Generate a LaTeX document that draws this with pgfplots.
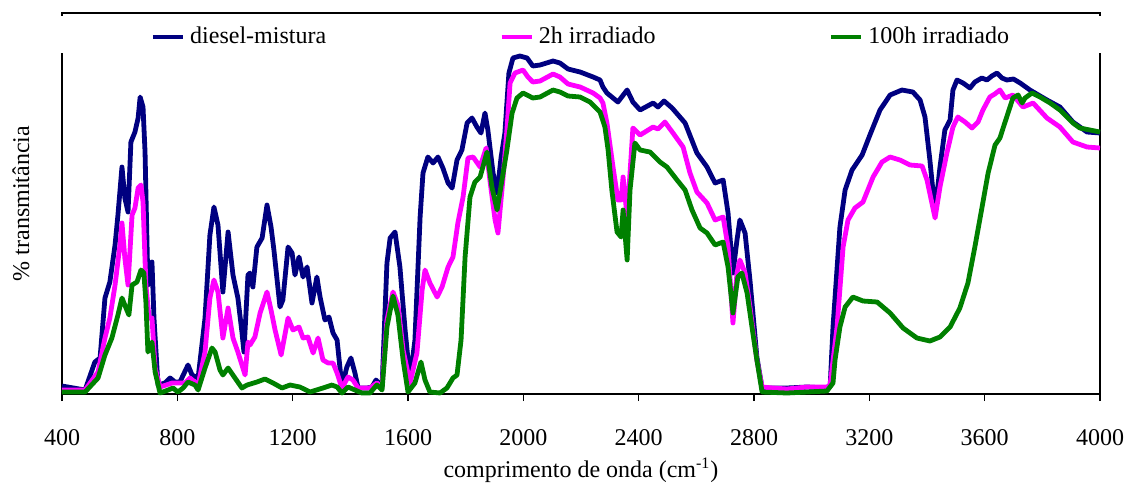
\documentclass[border=0pt]{standalone}
\usepackage{fontspec}
\setmainfont{Liberation Serif}
\usepackage{pgfplots}
\pgfplotsset{compat=1.18}
\definecolor{cdiesel}{RGB}{0,0,128}
\definecolor{cdois}{RGB}{255,0,255}
\definecolor{ccem}{RGB}{0,128,0}

\begin{document}
\fontsize{12}{14}\selectfont
\begin{tikzpicture}
\useasboundingbox (-31pt,-45pt) rectangle (532pt,197pt);
\begin{axis}[
    at={(0,0)}, anchor=south west,
    scale only axis, width=519pt, height=190.5pt,
    xmin=400, xmax=4000, ymin=0, ymax=381,
    xtick={400,800,...,4000}, ytick=\empty,
    xtick pos=bottom,
    tick align=outside, major tick length=3.5pt,
    xtick style={black, line width=0.6pt},
    axis line style={line width=0.6pt},
    x tick label style={anchor=base, yshift=-22pt, font=\fontsize{12}{14}\selectfont},
    /pgf/number format/assume math mode=true,
    /pgf/number format/set thousands separator={},
    xlabel={comprimento de onda (cm\textsuperscript{-1})},
    xlabel style={at={(axis description cs:0.5,-0.218)}, anchor=base},
    ylabel={\% transmitância},
    ylabel style={at={(axis description cs:-0.0395,0.5)}, anchor=center},
    clip=false,
    legend columns=3,
    legend style={draw=none, fill=none, inner sep=0pt,
        at={(rel axis cs:0.0848,0.937)}, anchor=west,
        nodes={inner xsep=2.5pt, inner ysep=0pt},
        /tikz/every even column/.append style={column sep=84pt}},
    legend image code/.code={\draw[#1] (0pt,0pt) -- (15pt,0pt);},
    every axis plot/.append style={line width=2.4pt, line join=round},
]
% faixa branca da legenda sobre a moldura
\fill[white] (rel axis cs:-0.006,0.895) rectangle (rel axis cs:1.006,0.992);

\addplot[cdiesel] coordinates {
(400,8)(480,4)(514,32)(532,36)(549,96)(566,112)(584,149)(594,179)(608,227)
(618,196)(629,182)(639,252)(653,262)(664,276)(671,297)(681,287)(688,242)
(698,109)(712,132)(719,76)(733,9)(757,11)(775,16)(792,12)(809,12)(837,29)
(851,19)(872,16)(896,76)(913,159)(927,187)(941,169)(958,102)(976,162)
(993,119)(1010,96)(1024,62)(1031,42)(1045,119)(1052,121)(1062,107)(1076,147)
(1094,156)(1111,189)(1125,167)(1135,144)(1156,87)(1166,94)(1184,147)
(1198,141)(1208,119)(1222,137)(1236,117)(1250,127)(1267,91)(1284,117)
(1295,97)(1312,74)(1326,77)(1340,61)(1354,54)(1371,7)(1388,27)(1402,36)
(1416,21)(1427,6)(1458,6)(1475,7)(1489,14)(1510,7)(1527,131)(1538,156)
(1555,162)(1572,127)(1590,64)(1607,14)(1624,54)(1642,177)(1652,221)
(1669,237)(1687,231)(1704,237)(1721,226)(1739,211)(1753,206)(1770,234)
(1787,244)(1805,271)(1822,276)(1839,267)(1853,261)(1867,281)(1877,264)
(1895,221)(1909,201)(1923,237)(1936,261)(1950,321)(1964,336)(1988,338)
(2013,336)(2033,328)(2058,329)(2103,333)(2127,331)(2155,325)(2197,322)
(2242,317)(2266,314)(2276,307)(2290,301)(2328,292)(2360,304)(2380,292)
(2405,284)(2450,291)(2467,287)(2488,293)(2516,286)(2561,271)(2602,241)
(2637,227)(2665,211)(2693,214)(2710,181)(2727,121)(2741,154)(2751,174)
(2769,161)(2786,114)(2810,37)(2828,6)(2914,6)(2984,7)(3053,6)(3064,7)
(3074,67)(3098,167)(3116,204)(3140,224)(3175,239)(3202,259)(3237,284)
(3272,299)(3313,304)(3351,302)(3376,294)(3393,277)(3410,234)(3428,182)
(3445,227)(3462,264)(3480,274)(3490,304)(3504,314)(3525,311)(3549,306)
(3566,312)(3590,316)(3608,314)(3625,318)(3643,321)(3660,316)(3677,314)
(3700,315)(3723,311)(3757,304)(3816,294)(3861,287)(3906,272)(3955,262)
(4000,261)};
\addlegendentry{diesel-mistura}

\addplot[cdois] coordinates {
(400,4)(480,4)(525,22)(549,56)(566,76)(584,109)(601,149)(608,171)(618,136)
(629,109)(643,179)(653,186)(664,206)(674,209)(681,192)(691,109)(702,76)
(712,76)(723,26)(740,7)(782,11)(827,11)(844,16)(872,9)(896,42)(913,96)
(927,114)(941,102)(958,56)(976,86)(993,56)(1010,42)(1035,19)(1045,52)
(1052,49)(1069,57)(1087,81)(1111,102)(1125,84)(1139,64)(1160,39)(1184,76)
(1201,64)(1222,67)(1236,56)(1253,57)(1271,41)(1288,56)(1305,34)(1323,31)
(1340,31)(1354,21)(1371,6)(1392,17)(1409,14)(1427,6)(1468,6)(1492,11)
(1510,7)(1527,74)(1548,102)(1565,89)(1583,44)(1607,11)(1631,41)(1649,104)
(1659,124)(1676,111)(1701,97)(1718,107)(1739,127)(1756,137)(1773,171)
(1791,197)(1808,236)(1826,237)(1850,227)(1871,246)(1884,214)(1902,174)
(1912,161)(1929,214)(1943,264)(1954,311)(1971,321)(1999,324)(2016,317)
(2033,312)(2058,313)(2103,320)(2127,317)(2155,310)(2197,307)(2242,301)
(2266,296)(2276,291)(2290,271)(2311,227)(2328,194)(2339,194)(2346,217)
(2360,177)(2370,221)(2380,266)(2405,259)(2450,267)(2467,265)(2491,272)
(2519,261)(2554,247)(2578,221)(2602,202)(2637,191)(2665,174)(2693,177)
(2710,147)(2727,71)(2741,121)(2751,134)(2769,121)(2786,87)(2810,34)
(2828,7)(2866,6)(2914,5)(2984,7)(3053,7)(3064,9)(3088,67)(3109,147)
(3126,174)(3150,186)(3178,192)(3213,217)(3244,232)(3272,237)(3306,234)
(3341,229)(3383,228)(3400,214)(3428,176)(3445,207)(3469,241)(3490,267)
(3507,277)(3532,272)(3556,266)(3577,272)(3594,284)(3618,297)(3635,300)
(3653,304)(3671,296)(3698,299)(3733,287)(3768,291)(3816,276)(3861,267)
(3906,252)(3955,247)(4000,246)};
\addlegendentry{2h irradiado}

\addplot[ccem] coordinates {
(400,2)(480,2)(525,16)(549,39)(573,56)(594,79)(608,96)(622,86)(632,79)
(643,109)(660,112)(674,124)(684,121)(691,92)(698,42)(712,52)(723,22)
(740,1)(768,4)(785,6)(802,2)(820,6)(837,12)(861,9)(872,4)(896,26)(920,46)
(931,42)(948,24)(958,19)(976,26)(1000,16)(1024,6)(1042,9)(1076,12)
(1104,15)(1132,11)(1163,6)(1191,9)(1225,7)(1260,2)(1305,6)(1336,9)
(1354,7)(1371,1)(1392,7)(1416,4)(1440,1)(1468,1)(1492,9)(1510,4)(1527,67)
(1548,98)(1565,79)(1583,34)(1600,2)(1624,11)(1645,32)(1659,14)(1676,2)
(1711,1)(1735,6)(1756,16)(1770,19)(1784,54)(1798,137)(1815,197)(1832,212)
(1850,217)(1874,242)(1891,207)(1909,184)(1926,214)(1943,244)(1961,281)
(1978,296)(1999,301)(2033,296)(2058,297)(2103,304)(2127,302)(2155,298)
(2197,297)(2231,292)(2266,282)(2283,267)(2294,244)(2307,204)(2325,162)
(2339,157)(2346,184)(2360,134)(2370,204)(2387,251)(2405,244)(2439,242)
(2474,232)(2498,227)(2533,214)(2561,204)(2585,184)(2613,166)(2637,161)
(2665,149)(2693,152)(2710,127)(2727,81)(2744,117)(2758,121)(2776,101)
(2793,67)(2810,34)(2828,2)(2914,1)(2984,2)(3053,3)(3074,11)(3081,34)
(3098,67)(3116,87)(3143,97)(3178,93)(3227,92)(3272,81)(3317,66)(3365,56)
(3410,53)(3445,57)(3480,67)(3514,86)(3542,111)(3566,147)(3591,187)
(3612,221)(3636,249)(3653,256)(3664,266)(3681,281)(3698,296)(3716,299)
(3730,291)(3740,296)(3764,301)(3792,297)(3827,291)(3861,284)(3906,271)
(3930,266)(3965,264)(4000,262)};
\addlegendentry{100h irradiado}
\end{axis}
\end{tikzpicture}
\end{document}
